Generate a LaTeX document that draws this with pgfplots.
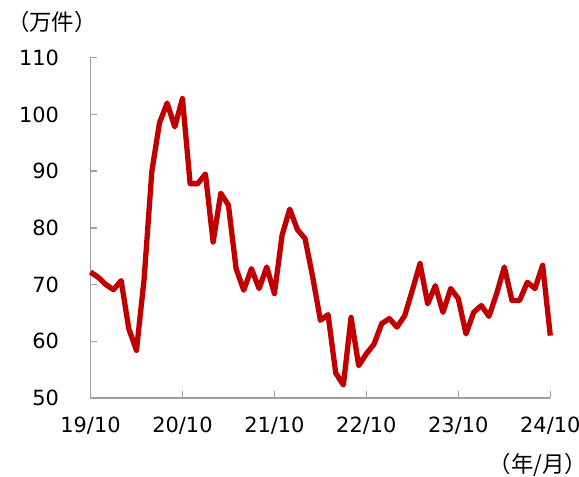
\documentclass[border=0pt]{standalone}
\usepackage{fontspec}
\setmainfont{DejaVu Sans}
\newfontfamily\cjk{Noto Sans CJK JP}
\usepackage{pgfplots}
\pgfplotsset{compat=1.18}
\definecolor{axisgray}{HTML}{A0A0A0}
\definecolor{linered}{HTML}{C00000}
\begin{document}
\begin{tikzpicture}
\begin{axis}[
  at={(0,0)}, anchor=south west,
  scale only axis, width=459.8bp, height=340.3bp,
  xmin=0, xmax=60, ymin=50, ymax=110,
  axis x line=bottom, axis y line=left,
  axis line style={-, draw=axisgray, line width=1.5bp},
  xtick={0,12,...,60}, xticklabels={19/10,20/10,21/10,22/10,23/10,24/10},
  ytick={50,60,...,110},
  tick style={draw=axisgray, line width=1.5bp},
  tick align=inside, major tick length=7bp,
  ticklabel style={font=\fontsize{21}{25}\selectfont},
  /pgf/number format/assume math mode=true,
  yticklabel style={xshift=-28bp},
  xticklabel style={yshift=-15bp},
  clip=false,
]
\addplot[linered, line width=5.3bp, line join=round, no marks] coordinates {
(0,72.2) (1,71.3) (2,70.0) (3,69.1) (4,70.7) (5,62.2) (6,58.4) (7,71.0)
(8,89.9) (9,98.5) (10,102.0) (11,97.8) (12,102.8) (13,87.8) (14,87.8) (15,89.5)
(16,77.5) (17,86.1) (18,84.0) (19,72.8) (20,69.0) (21,72.8) (22,69.3) (23,73.1)
(24,68.4) (25,78.7) (26,83.3) (27,79.7) (28,78.1) (29,71.3) (30,63.7) (31,64.7)
(32,54.4) (33,52.3) (34,64.2) (35,55.7) (36,57.8) (37,59.5) (38,63.1) (39,64.0)
(40,62.5) (41,64.5) (42,69.0) (43,73.7) (44,66.6) (45,69.8) (46,65.1) (47,69.3)
(48,67.5) (49,61.3) (50,65.1) (51,66.3) (52,64.4) (53,68.4) (54,73.1) (55,67.2)
(56,67.2) (57,70.4) (58,69.3) (59,73.4) (60,61.0)
};
\end{axis}
\node[font=\cjk\fontsize{22.5}{26}\selectfont, inner sep=0pt] at (-38.5bp,376bp) {（万件）};
\node[font=\cjk\fontsize{22.5}{26}\selectfont, inner sep=0pt] at (447.5bp,-66.5bp) {（年/月）};
\pgfresetboundingbox
\path[use as bounding box] (-90.5bp,-79bp) rectangle (488.5bp,398bp);
\end{tikzpicture}
\end{document}
